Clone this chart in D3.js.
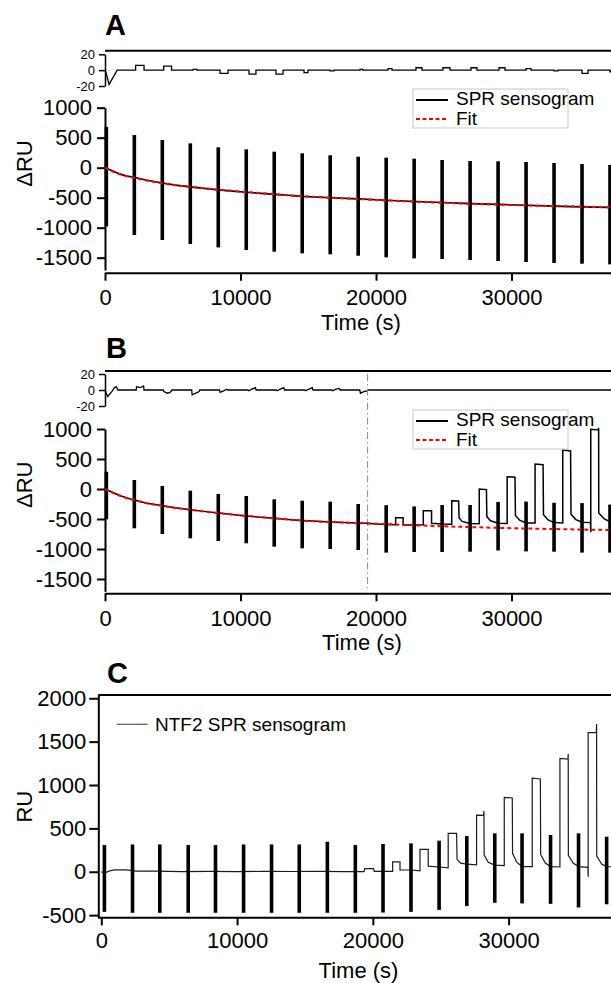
<!DOCTYPE html>
<html>
<head>
<meta charset="utf-8">
<script src="https://cdn.jsdelivr.net/npm/d3@7"></script>
<style>
  body { margin: 0; background: #fff; }
  svg { display: block; }
</style>
</head>
<body>
<div id="chart"></div>
<script>
// ---------- values ----------
var xTicks = [0, 10000, 20000, 30000];
var ruTicks = [1000, 500, 0, -500, -1000, -1500];
var resTicks = [20, 0, -20];
var ntfTicks = [2000, 1500, 1000, 500, 0, -500];

// injection spikes: time (s), top and bottom of each spike (RU)
var spikeTimes = [100, 2165, 4230, 6295, 8360, 10425, 12490, 14555, 16620, 18685, 20750, 22815, 24880, 26945, 29010, 31075, 33140, 35205, 37270];
var spikeTopA = [680, 545, 462, 406, 340, 306, 267, 240, 207, 183, 167, 150, 128, 112, 107, 95, 78, 62, 45];
var spikeBottomA = [-980, -1122, -1205, -1272, -1328, -1372, -1400, -1427, -1444, -1467, -1494, -1511, -1522, -1539, -1556, -1572, -1589, -1600, -1611];
var spikeTopB = [288, 150, 50, -28, -83, -117, -172, -195, -211, -250, -270, -290, -267, -267, -215, -210, -230, -235, -260];
var spikeBottomB = [-505, -655, -750, -822, -867, -905, -961, -989, -1000, -1017, -1060, -1050, -1050, -1045, -1025, -1040, -1045, -1060, -1060];
var spikeTimesC = [228, 2300, 4309, 6401, 8411, 10480, 12540, 14580, 16650, 18710, 20750, 22810, 24880, 26920, 28980, 30990, 33090, 35150, 37220];
var spikeTopC = [308, 315, 315, 308, 308, 315, 315, 315, 346, 308, 320, 327, 358, 412, 443, 443, 424, 443, 404];
var spikeBottomC = [-462, -473, -473, -473, -473, -473, -473, -473, -473, -473, -470, -462, -440, -396, -358, -365, -370, -411, -375];

// baseline of A and the fits of A and B
var baseTimes = [0, 500, 1000, 1600, 2165, 3000, 4230, 5200, 6295, 7300, 8360, 9400, 10425, 11500, 12490, 13500, 14555, 16620, 18685, 20750, 22815, 24880, 26945, 29010, 31075, 33140, 35205, 37270, 39000];
var fitA = [0, -55, -100, -140, -170, -210, -260, -292, -320, -342, -365, -385, -405, -423, -440, -458, -475, -500, -522, -545, -565, -583, -600, -615, -628, -640, -650, -660, -668];
var traceA = [0, -45, -95, -140, -160, -205, -255, -290, -320, -345, -370, -390, -410, -428, -445, -460, -478, -500, -520, -543, -563, -580, -598, -612, -627, -640, -653, -662, -670];
var fitB = [0, -55, -105, -150, -185, -235, -280, -315, -345, -375, -400, -425, -448, -470, -488, -507, -525, -550, -568, -585, -605, -620, -635, -648, -658, -668, -676, -683, -690];

// sensogram of B as [time, RU]
var traceB = [[0, 0], [500, -50], [1000, -100], [1600, -150], [2165, -185], [3000, -232], [4230, -278], [5200, -313],
  [6295, -345], [7300, -373], [8360, -400], [9400, -424], [10425, -448], [11500, -470], [12490, -488], [13500, -507],
  [14555, -525], [16620, -550], [18685, -568], [19390, -572], [20000, -585], [20750, -592],
  [21450, -596], [21450, -478], [22000, -478], [22000, -600], [22815, -600],
  [23490, -598], [23490, -362], [24100, -362], [24100, -572], [24880, -585],
  [25590, -588], [25590, -195], [26100, -200], [26130, -480], [26350, -540], [26945, -575],
  [27620, -580], [27620, 0], [28150, -10], [28180, -460], [28450, -530], [29010, -572],
  [29680, -575], [29680, 205], [30260, 195], [30290, -440], [30600, -520], [31075, -565],
  [31740, -568], [31740, 417], [32330, 405], [32360, -430], [32700, -515], [33140, -560],
  [33780, -565], [33780, 650], [34360, 635], [34390, -420], [34750, -510], [35205, -555],
  [35830, -560], [35850, -720], [35850, 995], [36400, 985], [36430, 1020], [36440, -400], [36850, -500], [37270, -545],
  [38000, -560], [39000, -565]];

// NTF2 sensogram (C) as [time, RU]
var traceC = [[0, 0], [250, -15], [600, 10], [1000, 22], [1800, 22], [2600, 8], [4000, 8], [6000, 2], [8000, 4],
  [10000, 2], [12000, 4], [14000, 3], [16000, 4], [18000, 2], [19350, 2], [19400, 35], [20050, 35], [20100, 5],
  [21460, 5], [21460, 115], [22000, 115], [22000, 20], [22810, 20],
  [23470, 10], [23470, 258], [24080, 258], [24080, 65], [24880, 55],
  [25550, 45], [25550, 443], [26170, 443], [26200, 143], [26450, 100], [26920, 89],
  [27640, 80], [27640, 654], [28150, 650], [28180, 700], [28200, 193], [28500, 110], [28980, 77],
  [29680, 70], [29680, 858], [30270, 850], [30290, 212], [30600, 110], [30990, 60],
  [31740, 60], [31740, 1078], [32340, 1070], [32360, 200], [32700, 100], [33090, 60],
  [33780, 55], [33780, 1308], [34370, 1300], [34390, 1360], [34400, 190], [34750, 100], [35150, 60],
  [35840, 50], [35860, -58], [35860, 1604], [36460, 1604], [36480, 1704], [36490, 180], [36850, 90], [37220, 60],
  [38000, 55], [39000, 55]];

// residuals of A: start dip, then one step after each injection
var resStartA = [[0, 0], [60, -2], [300, -18], [900, 0]];
var resBumpStart = [2260, 4330, 6500, 8490, 10630, 12620, 14690, 16610, 18820, 20890, 22950, 24940, 27010, 29080, 31070, 33140, 35200, 37270];
var resBumpEnd = [2880, 4910, 6790, 9080, 11140, 13140, 14980, 16900, 19040, 21180, 23390, 25460, 27450, 29520, 31440, 33430, 35650, 37700];
var resBumpValue = [6, 5, 1, -4, -5, -5, -3, -1, 1, 2, 3, 3, 3, 3, 2, -1, -4, -2];

// residuals of B (fit only up to the dashed line)
var resB = [[0, 0], [200, -8], [500, -2], [700, 3], [850, 4], [950, 0],
  [2300, 0], [2330, 4], [2600, 3], [2850, 5], [2880, 0],
  [4300, 0], [4350, -2], [4600, -4], [4800, -3], [4950, 0],
  [6400, 0], [6430, -6], [6700, -4], [6950, -2], [7000, 0],
  [8450, 0], [8500, -3], [8750, -1], [9000, 1], [9050, 0],
  [10550, 0], [10600, -1], [10850, 1], [11100, 3], [11150, 0],
  [12650, 0], [12700, -1], [12950, 1], [13200, 3], [13250, 0],
  [14750, 0], [14800, -1], [15050, 1], [15300, 3], [15350, 0],
  [16750, 0], [16800, -1], [17050, 1], [17300, 2], [17350, 0],
  [18800, 0], [18850, -4], [19100, -2], [19350, -1], [19400, 0],
  [39000, 0]];
var fitEndB = 19380;

// ---------- drawing ----------
var font = '"Liberation Sans", Arial, Helvetica, sans-serif';

var svg = d3.select("#chart")
  .append("svg")
    .attr("width", 611)
    .attr("height", 983)
    .style("font-family", font);

// x scales (the plots run on past the right edge of the picture)
var xAB = d3.scaleLinear().domain([0, 38000]).range([105, 105 + 38000 * 0.01355]);
var kC = 0.013577;
var xC = d3.scaleLinear().domain([-280, 38000]).range([101.3 - 280 * kC, 101.3 + 38000 * kC]);

function styleAxis(g, width, size) {
  g.attr("font-family", font).attr("font-size", size);
  g.select(".domain").attr("stroke", "#000").attr("stroke-width", width);
  g.selectAll(".tick line").attr("stroke", "#000").attr("stroke-width", width);
  g.selectAll(".tick text").attr("fill", "#000");
}

function numLabel(d) { return String(d); }

function panelLetter(txt, x, y) {
  svg.append("text")
    .attr("x", x).attr("y", y)
    .attr("font-size", 29).attr("font-weight", "bold")
    .text(txt);
}

function drawResidual(x, yRes, frameY, points) {
  // top frame line
  svg.append("line")
    .attr("x1", 105).attr("x2", 640)
    .attr("y1", frameY).attr("y2", frameY)
    .attr("stroke", "#000").attr("stroke-width", 2);

  var ax = svg.append("g")
    .attr("transform", "translate(105,0)")
    .call(d3.axisLeft(yRes).tickValues(resTicks).tickSize(6).tickPadding(4).tickSizeOuter(0).tickFormat(numLabel));
  styleAxis(ax, 1.5, 13);

  svg.append("path")
    .datum(points)
    .attr("fill", "none")
    .attr("stroke", "#000")
    .attr("stroke-width", 1.3)
    .attr("d", d3.line().x(function(d) { return x(d[0]); }).y(function(d) { return yRes(d[1]); }));
}

function drawSpikes(x, y, times, tops, bottoms) {
  svg.append("g")
    .selectAll("line")
    .data(times)
    .enter()
    .append("line")
      .attr("x1", function(d) { return x(d); })
      .attr("x2", function(d) { return x(d); })
      .attr("y1", function(d, i) { return y(tops[i]); })
      .attr("y2", function(d, i) { return y(bottoms[i]); })
      .attr("stroke", "#000")
      .attr("stroke-width", 3.6);
}

function drawAxes(x, y, yTicks, xAxisY, yLabel, yLabelY, titleY, opts) {
  var yAx = svg.append("g")
    .attr("transform", "translate(" + opts.yAxisX + ",0)")
    .call(d3.axisLeft(y).tickValues(yTicks).tickSize(opts.yTick).tickPadding(opts.yPad).tickSizeOuter(0).tickFormat(numLabel));
  styleAxis(yAx, 2, 22);

  var xAx = svg.append("g")
    .attr("transform", "translate(0," + xAxisY + ")")
    .call(d3.axisBottom(x).tickValues(xTicks).tickSize(8).tickPadding(opts.xPad).tickSizeOuter(0).tickFormat(numLabel));
  styleAxis(xAx, 2, 22);

  svg.append("text")
    .attr("transform", "translate(32," + yLabelY + ") rotate(-90)")
    .attr("text-anchor", "middle")
    .attr("font-size", 22)
    .text(yLabel);

  svg.append("text")
    .attr("x", opts.titleX).attr("y", titleY)
    .attr("text-anchor", "middle")
    .attr("font-size", 22)
    .text("Time (s)");
}

function drawLegend(top) {
  var g = svg.append("g");
  g.append("rect")
    .attr("x", 413).attr("y", top).attr("width", 155).attr("height", 39)
    .attr("fill", "none").attr("stroke", "#c8c8c8").attr("stroke-width", 1);
  g.append("line")
    .attr("x1", 416).attr("x2", 448).attr("y1", top + 11).attr("y2", top + 11)
    .attr("stroke", "#000").attr("stroke-width", 2);
  g.append("line")
    .attr("x1", 416).attr("x2", 448).attr("y1", top + 30).attr("y2", top + 30)
    .attr("stroke", "#f00").attr("stroke-width", 2).attr("stroke-dasharray", "4,2.5");
  g.append("text").attr("x", 456).attr("y", top + 16).attr("font-size", 19).text("SPR sensogram");
  g.append("text").attr("x", 456).attr("y", top + 36).attr("font-size", 19).text("Fit");
}

var lineGen = function(x, y) {
  return d3.line().x(function(d) { return x(d[0]); }).y(function(d) { return y(d[1]); });
};

// ===== Panel A =====
var yA = d3.scaleLinear().domain([1000, -1705]).range([107.7, 270]);
var yResA = d3.scaleLinear().domain([20, -20]).range([54.3, 86]);

panelLetter("A", 105, 35);

var resAPoints = resStartA.slice();
resBumpStart.forEach(function(s, i) {
  resAPoints.push([s, 0], [s, resBumpValue[i]], [resBumpEnd[i], resBumpValue[i]], [resBumpEnd[i], 0]);
});
resAPoints.push([39000, 0]);
drawResidual(xAB, yResA, 50.7, resAPoints);

drawAxes(xAB, yA, ruTicks, 272.7, "\u0394RU", 163.5, 330, {yAxisX: 105, yTick: 8, yPad: 5, xPad: 9, titleX: 361});

svg.append("path")
  .datum(d3.zip(baseTimes, traceA))
  .attr("fill", "none").attr("stroke", "#000").attr("stroke-width", 1.6)
  .attr("d", lineGen(xAB, yA));
drawSpikes(xAB, yA, spikeTimes, spikeTopA, spikeBottomA);
svg.append("path")
  .datum(d3.zip(baseTimes, fitA))
  .attr("fill", "none").attr("stroke", "#f00").attr("stroke-width", 2).attr("stroke-dasharray", "4,3")
  .attr("d", lineGen(xAB, yA).curve(d3.curveMonotoneX));
drawLegend(89);

// ===== Panel B =====
var yB = d3.scaleLinear().domain([1000, -1705]).range([429, 591.3]);
var yResB = d3.scaleLinear().domain([20, -20]).range([374, 406]);

panelLetter("B", 106, 358);
drawResidual(xAB, yResB, 371, resB);

drawAxes(xAB, yB, ruTicks, 593.3, "\u0394RU", 484.8, 650, {yAxisX: 105, yTick: 8, yPad: 5, xPad: 9, titleX: 362});

// end of the fitted range
svg.append("line")
  .attr("x1", xAB(fitEndB)).attr("x2", xAB(fitEndB))
  .attr("y1", 374).attr("y2", 588)
  .attr("stroke", "#8a8a8a").attr("stroke-width", 1)
  .attr("stroke-dasharray", "7,3,1.5,3");

svg.append("path")
  .datum(traceB)
  .attr("fill", "none").attr("stroke", "#000").attr("stroke-width", 1.5)
  .attr("d", lineGen(xAB, yB));
drawSpikes(xAB, yB, spikeTimes, spikeTopB, spikeBottomB);
svg.append("path")
  .datum(d3.zip(baseTimes, fitB))
  .attr("fill", "none").attr("stroke", "#f00").attr("stroke-width", 2).attr("stroke-dasharray", "4,3")
  .attr("d", lineGen(xAB, yB).curve(d3.curveMonotoneX));
drawLegend(410);

// ===== Panel C =====
var yC = d3.scaleLinear().domain([2040, -525]).range([694.8, 917.3]);

panelLetter("C", 107, 683);

svg.append("line")
  .attr("x1", 98.3).attr("x2", 640)
  .attr("y1", 695).attr("y2", 695)
  .attr("stroke", "#000").attr("stroke-width", 2);

drawAxes(xC, yC, ntfTicks, 917.3, "RU", 806.7, 978, {yAxisX: 98.3, yTick: 9, yPad: 3, xPad: 7, titleX: 358.5});

svg.append("path")
  .datum(traceC)
  .attr("fill", "none").attr("stroke", "#1a1a1a").attr("stroke-width", 1.2)
  .attr("d", lineGen(xC, yC));
drawSpikes(xC, yC, spikeTimesC, spikeTopC, spikeBottomC);

svg.append("line")
  .attr("x1", 116.7).attr("x2", 147.7).attr("y1", 724.3).attr("y2", 724.3)
  .attr("stroke", "#555").attr("stroke-width", 1.2);
svg.append("text")
  .attr("x", 155).attr("y", 731)
  .attr("font-size", 19)
  .text("NTF2 SPR sensogram");
</script>
</body>
</html>
